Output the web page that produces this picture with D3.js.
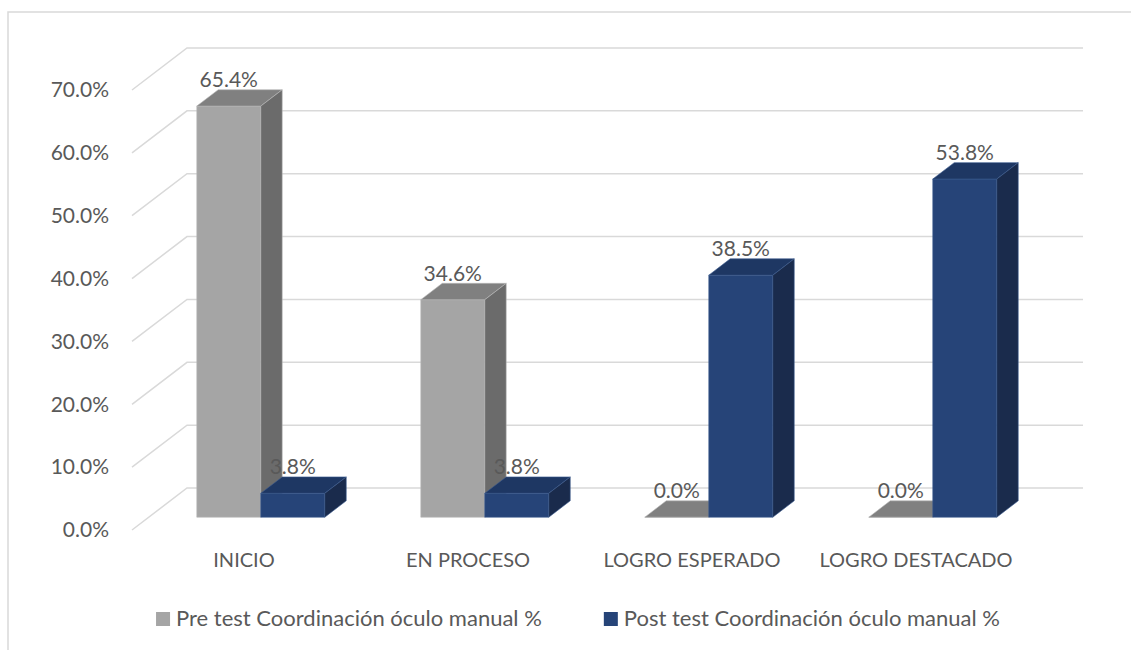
<!DOCTYPE html>
<html>
<head>
<meta charset="utf-8">
<script src="https://cdn.jsdelivr.net/npm/d3@7"></script>
<style>
  body { margin: 0; background: #fff; }
  text { font-family: Lato, "Open Sans", sans-serif; fill: #595959; }
</style>
</head>
<body>
<svg id="chart"></svg>
<script>
// Chart data
const categories = ["INICIO", "EN PROCESO", "LOGRO ESPERADO", "LOGRO DESTACADO"];
const preTest = [65.4, 34.6, 0.0, 0.0];
const postTest = [3.8, 3.8, 38.5, 53.8];
const seriesNames = ["Pre test Coordinación óculo manual %", "Post test Coordinación óculo manual %"];
const yTicks = [0, 10, 20, 30, 40, 50, 60, 70];

const width = 1131, height = 650;
const fontSize = 21;     // axis + data labels
const catFontSize = 20;  // category labels
const legFontSize = 22;  // legend

// Colours for each series: front, top, side
const colors = [
    { front: "#a5a5a5", top: "#808080", side: "#6b6b6b", edge: "#b8b8b8" },
    { front: "#264478", top: "#1e3763", side: "#1a2b4c", edge: "#3a5a8e" }
];

const svg = d3.select("#chart")
    .attr("width", width)
    .attr("height", height);

// Front plane scales (depth z = 0)
const x = d3.scaleBand().domain(categories).range([132, 1028]);
const y = d3.scaleLinear().domain([0, 70]).range([530, 90]);

// Depth projection: z goes from 0 (front) to 1 (back wall)
const depthX = 55, depthY = -42;
function proj(px, py, z) {
    return [px + depthX * z, py + depthY * z];
}

// Chart border (left and top only are visible)
svg.append("path")
    .attr("d", `M8,${height} L8,12 L${width},12`)
    .attr("fill", "none")
    .attr("stroke", "#d9d9d9")
    .attr("stroke-width", 1.5);

// Gridlines: side wall + back wall
const [xl, xr] = x.range();
yTicks.forEach(v => {
    const a = proj(xl, y(v), 0), b = proj(xl, y(v), 1), c = proj(xr, y(v), 1);
    svg.append("polyline")
        .attr("points", [a, b, c].map(p => p.join(",")).join(" "))
        .attr("fill", "none")
        .attr("stroke", "#d9d9d9")
        .attr("stroke-width", 1.5);
});

// Y axis labels
svg.selectAll(".ytick")
    .data(yTicks)
    .enter()
    .append("text")
    .attr("class", "ytick")
    .attr("x", 109)
    .attr("y", d => y(d))
    .attr("dy", "0.35em")
    .attr("text-anchor", "end")
    .attr("font-size", fontSize)
    .text(d => d.toFixed(1) + "%");

// Bars
const barW = x.bandwidth() * 2 / 7;
const zf = 0.305, zb = 0.695;

function poly(pts) {
    return pts.map(p => p.join(",")).join(" ");
}

categories.forEach((cat, i) => {
    const cx = x(cat) + x.bandwidth() / 2;
    [preTest[i], postTest[i]].forEach((v, s) => {
        const x0 = cx - barW + s * barW, x1 = x0 + barW;
        const yt = y(v), y0 = y(0);
        const col = colors[s];
        const g = svg.append("g");

        // front face
        g.append("polygon")
            .attr("points", poly([proj(x0, yt, zf), proj(x1, yt, zf), proj(x1, y0, zf), proj(x0, y0, zf)]))
            .attr("fill", col.front)
            .attr("stroke", col.edge)
            .attr("stroke-width", 0.6);
        // top face
        g.append("polygon")
            .attr("points", poly([proj(x0, yt, zf), proj(x1, yt, zf), proj(x1, yt, zb), proj(x0, yt, zb)]))
            .attr("fill", col.top)
            .attr("stroke", col.edge)
            .attr("stroke-width", 0.6);
        // side face
        g.append("polygon")
            .attr("points", poly([proj(x1, yt, zf), proj(x1, yt, zb), proj(x1, y0, zb), proj(x1, y0, zf)]))
            .attr("fill", col.side)
            .attr("stroke", col.edge)
            .attr("stroke-width", 0.6);

        // data label above the back edge of the top
        const lbl = proj((x0 + x1) / 2, yt, zb);
        svg.append("text")
            .attr("x", lbl[0] - depthX * (zb - zf))
            .attr("y", lbl[1] - 2.5)
            .attr("text-anchor", "middle")
            .attr("font-size", fontSize)
            .text(v.toFixed(1) + "%");
    });
});

// Category labels
svg.selectAll(".xlab")
    .data(categories)
    .enter()
    .append("text")
    .attr("class", "xlab")
    .attr("x", d => x(d) + x.bandwidth() / 2)
    .attr("y", 567)
    .attr("text-anchor", "middle")
    .attr("font-size", catFontSize)
    .text(d => d);

// Legend
const legend = svg.append("g");
const items = seriesNames.map((name, s) => {
    const it = legend.append("g");
    it.append("rect")
        .attr("width", 14)
        .attr("height", 14)
        .attr("y", 612)
        .attr("fill", colors[s].front);
    const t = it.append("text")
        .attr("x", 20)
        .attr("y", 626)
        .attr("font-size", legFontSize)
        .text(name);
    return { g: it, w: 20 + t.node().getComputedTextLength() };
});
const gap = 62;
const total = d3.sum(items, d => d.w) + gap;
let lx = 578 - total / 2;
items.forEach(it => {
    it.g.attr("transform", `translate(${lx},0)`);
    lx += it.w + gap;
});
</script>
</body>
</html>
